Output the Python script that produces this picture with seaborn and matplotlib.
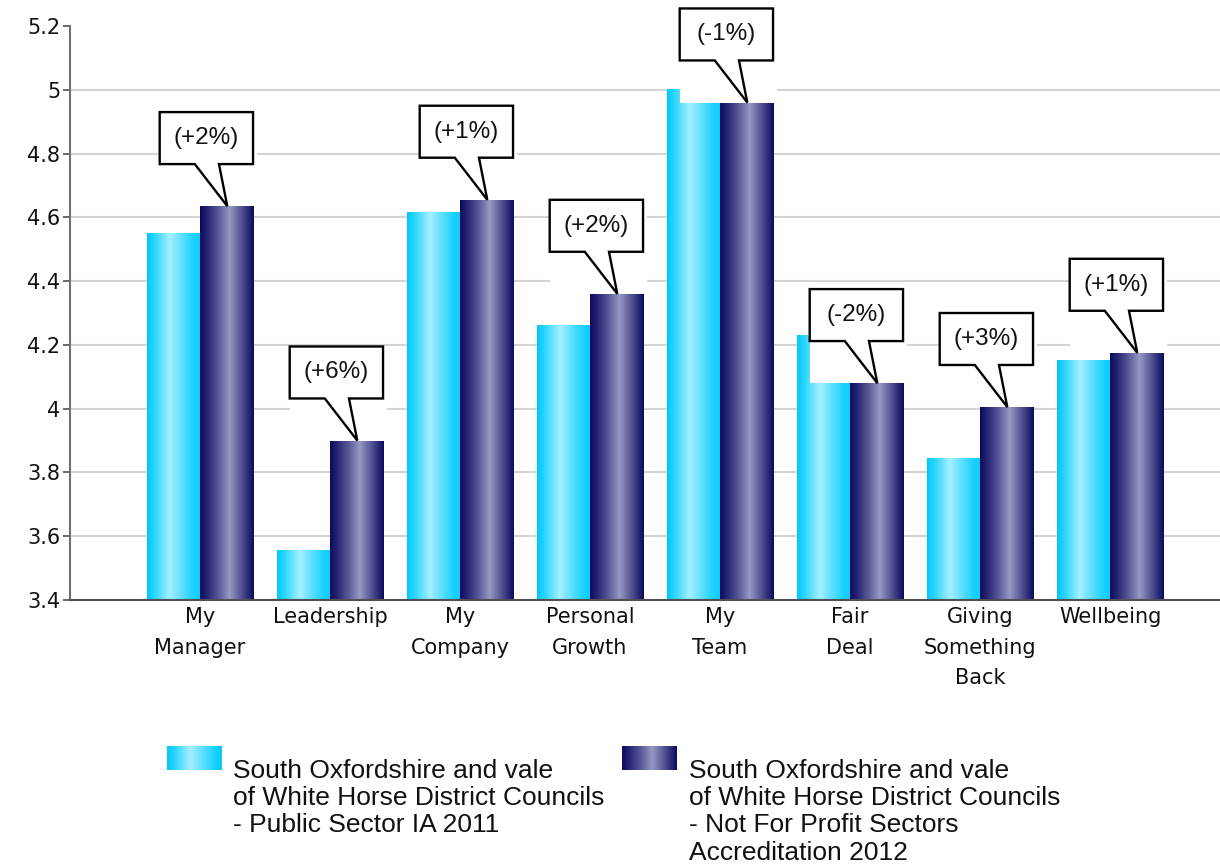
import numpy as np
import pandas as pd
import matplotlib
matplotlib.use("Agg")
import matplotlib.pyplot as plt
import seaborn as sns
from matplotlib.colors import LinearSegmentedColormap
from matplotlib.patches import Polygon, Rectangle

# ---- data -------------------------------------------------------------
categories = ["My\nManager", "Leadership", "My\nCompany", "Personal\nGrowth",
              "My\nTeam", "Fair\nDeal", "Giving\nSomething\nBack", "Wellbeing"]
series_names = [
    "South Oxfordshire and vale\nof White Horse District Councils\n- Public Sector IA 2011",
    "South Oxfordshire and vale\nof White Horse District Councils\n- Not For Profit Sectors\nAccreditation 2012",
]
public_2011 = [4.55, 3.555, 4.615, 4.26, 5.0, 4.23, 3.845, 4.15]
nfp_2012 = [4.635, 3.90, 4.655, 4.36, 4.96, 4.08, 4.005, 4.175]
change_labels = ["(+2%)", "(+6%)", "(+1%)", "(+2%)", "(-1%)", "(-2%)", "(+3%)", "(+1%)"]
y_ticks = [3.4, 3.6, 3.8, 4.0, 4.2, 4.4, 4.6, 4.8, 5.0, 5.2]

df = pd.DataFrame({
    "category": categories * 2,
    "score": public_2011 + nfp_2012,
    "series": [series_names[0]] * len(categories) + [series_names[1]] * len(categories),
})

# ---- styling ----------------------------------------------------------
sns.set_theme(style="white")
plt.rcParams["font.family"] = ["DejaVu Sans"]

light_cmap = LinearSegmentedColormap.from_list(
    "light", [(0.0, "#00c8fa"), (0.15, "#2fd6fd"), (0.42, "#a4efff"),
              (0.6, "#6fe2ff"), (0.85, "#1fd2fd"), (1.0, "#08ccfb")])
dark_cmap = LinearSegmentedColormap.from_list(
    "dark", [(0.0, "#0a0a5c"), (0.15, "#2a2a78"), (0.35, "#5c5c9a"),
             (0.55, "#9898c4"), (0.75, "#5a5a98"), (0.9, "#2a2a76"), (1.0, "#0c0c5e")])

fig = plt.figure(figsize=(12.2, 8.65), dpi=100)
ax = fig.add_axes([70 / 1220, 1 - 600 / 865, 1150 / 1220, 574 / 865])

sns.barplot(data=df, x="category", y="score", hue="series", order=categories,
            hue_order=series_names, palette=["#00ccff", "#1a1a6e"], width=0.816,
            legend=False, ax=ax)

ymin, ymax = 3.4, 5.2
xlim = (-1.0, -1.0 + 1150 / 130)

# gradient fill for every bar
grad = np.linspace(0, 1, 128)
for cont, cmap in zip(ax.containers, [light_cmap, dark_cmap]):
    for bar in cont:
        x0, w, h = bar.get_x(), bar.get_width(), bar.get_height()
        ax.imshow(cmap(grad)[np.newaxis, :, :], extent=[x0, x0 + w, ymin, h],
                  aspect="auto", interpolation="bilinear", zorder=1.5)
        bar.set_facecolor("none")
        bar.set_edgecolor("none")

ax.set_xlim(*xlim)
ax.set_ylim(ymin, ymax)
ax.set_yticks(y_ticks)
ax.set_yticklabels([f"{v:g}" for v in y_ticks])
ax.set_xlabel("")
ax.set_ylabel("")

ax.set_axisbelow(True)
ax.yaxis.grid(True, color="#d4d4d4", linewidth=1.5)
ax.xaxis.grid(False)
ax.yaxis.get_gridlines()[-1].set_visible(False)
ax.yaxis.get_gridlines()[0].set_visible(False)

for side in ["top", "right"]:
    ax.spines[side].set_visible(False)
ax.spines["left"].set_color("#707070")
ax.spines["left"].set_linewidth(1.5)
ax.spines["bottom"].set_color("#505050")
ax.spines["bottom"].set_linewidth(1.5)

ax.tick_params(axis="y", which="both", left=True, length=5, width=1.2,
               color="#505050", labelsize=15, labelcolor="#111111", pad=2)
ax.tick_params(axis="x", which="both", bottom=False, length=0,
               labelsize=15, labelcolor="#111111", pad=5)
for lab in ax.get_xticklabels():
    lab.set_linespacing(1.66)

# ---- change callouts --------------------------------------------------
gap, box_h = 0.132, 0.163
for i, (top, txt) in enumerate(zip(nfp_2012, change_labels)):
    xl, xr = i - 0.31, i + 0.408
    yb = top + gap
    yt = yb + box_h
    ax.add_patch(Rectangle((xl, top), (xr - xl) + 0.03, yt - top,
                           facecolor="white", edgecolor="none", zorder=3,
                           clip_on=False))
    pts = [(xl, yb), (i - 0.04, yb), (i + 0.21, top), (i + 0.146, yb),
           (xr, yb), (xr, yt), (xl, yt)]
    ax.add_patch(Polygon(pts, closed=True, facecolor="white", edgecolor="black",
                         linewidth=1.7, joinstyle="miter", zorder=4, clip_on=False))
    ax.text((xl + xr) / 2, (yb + yt) / 2, txt, ha="center", va="center",
            fontsize=17.5, family="Liberation Sans", color="#111111", zorder=5,
            clip_on=False)

# ---- legend -----------------------------------------------------------
legend_items = [(167, 233, light_cmap, series_names[0]),
                (622, 689, dark_cmap, series_names[1])]
for sx, tx, cmap, label in legend_items:
    sw = fig.add_axes([sx / 1220, 1 - 770 / 865, 55 / 1220, 24 / 865])
    sw.imshow(cmap(grad)[np.newaxis, :, :], aspect="auto", interpolation="bilinear")
    sw.set_axis_off()
    fig.text(tx / 1220, 1 - 759 / 865, label, ha="left", va="top", fontsize=19,
             family="Liberation Sans", color="#111111", linespacing=1.17)

fig.savefig("out.png", dpi=100)
